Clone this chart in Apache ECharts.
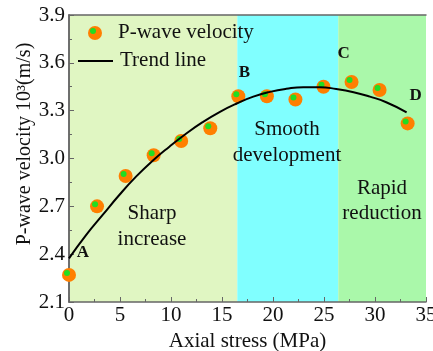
<!DOCTYPE html>
<html>
<head>
<meta charset="utf-8">
<script src="https://cdn.jsdelivr.net/npm/echarts@6/dist/echarts.min.js"></script>
<style>
html,body{margin:0;padding:0;background:#fff;}
#chart{width:433px;height:351px;}
</style>
</head>
<body>
<div id="chart"></div>
<script>
// P-wave velocity measurements (Axial stress MPa, velocity 10^3 m/s)
var stress = [0, 2.75, 5.55, 8.3, 11.0, 13.85, 16.6, 19.4, 22.2, 24.95, 27.7, 30.45, 33.2];
var velocity = [2.27, 2.70, 2.89, 3.02, 3.11, 3.19, 3.39, 3.39, 3.37, 3.45, 3.48, 3.43, 3.22];
var pointTags = ['A', '', '', '', '', '', 'B', '', '', '', 'C', '', 'D'];
// Trend line
var trendX = [0, 1.67, 3.3, 4.93, 6.57, 8.2, 9.84, 11.47, 13.1, 14.8, 16.44, 18.07, 19.7, 21.3, 22.97, 24.6, 26.2, 27.9, 29.5, 31.1, 33.1];
var trendY = [2.374, 2.52, 2.646, 2.771, 2.886, 2.986, 3.074, 3.155, 3.228, 3.293, 3.345, 3.388, 3.418, 3.437, 3.447, 3.447, 3.436, 3.416, 3.388, 3.353, 3.29];
// Stage bands
var stageStart = [0, 16.5, 26.4];
var stageEnd = [16.5, 26.4, 35];
var stageNames = ['Sharp\nincrease', 'Smooth\ndevelopment', 'Rapid\nreduction'];
var xTicks = [0, 5, 10, 15, 20, 25, 30, 35];
var yTicks = [2.1, 2.4, 2.7, 3.0, 3.3, 3.6, 3.9];

var FONT = '"Liberation Serif", "Times New Roman", serif';
var bandColors = ['#e0f6c2', '#80ffff', '#aaf8aa'];
var tagOffsets = {A: [14, -22], B: [6, -24], C: [-8, -28], D: [8, -28]};

var pts = stress.map(function (x, i) {
  var d = {value: [x, velocity[i]]};
  var t = pointTags[i];
  if (t) {
    d.label = {show: true, formatter: t, position: 'inside', offset: tagOffsets[t],
      fontFamily: FONT, fontWeight: 'bold', fontSize: 17, color: '#111'};
  }
  return d;
});
var greenPts = stress.map(function (x, i) { return [x, velocity[i]]; });
var trend = trendX.map(function (x, i) { return [x, trendY[i]]; });
var bands = stageStart.map(function (s, i) {
  return [{xAxis: s, itemStyle: {color: bandColors[i]}}, {xAxis: stageEnd[i]}];
});

var chart = echarts.init(document.getElementById('chart'), null, {renderer: 'canvas'});
var axisColor = '#666';
chart.setOption({
  animation: false,
  backgroundColor: '#fff',
  grid: {left: 69, right: 7, top: 15, bottom: 49, containLabel: false, outerBoundsMode: 'none'},
  xAxis: [{
    type: 'value', min: xTicks[0], max: xTicks[xTicks.length - 1], interval: 5, z: 2,
    axisLine: {lineStyle: {color: axisColor, width: 1.5}},
    axisTick: {show: true, inside: true, length: 5, lineStyle: {color: axisColor}},
    minorTick: {show: true, splitNumber: 2, length: 3, lineStyle: {color: axisColor}},
    splitLine: {show: false},
    axisLabel: {fontFamily: FONT, fontSize: 21, color: '#111', margin: 3},
    name: 'Axial stress (MPa)', nameLocation: 'middle', nameGap: 24,
    nameTextStyle: {fontFamily: FONT, fontSize: 21, color: '#111'}
  }, {
    type: 'value', position: 'top', min: 0, max: 35, z: 2,
    axisLine: {show: true, lineStyle: {color: axisColor, width: 1.5}},
    axisTick: {show: false}, axisLabel: {show: false}, splitLine: {show: false}
  }],
  yAxis: [{
    type: 'value', min: yTicks[0], max: yTicks[yTicks.length - 1], interval: 0.3, z: 2,
    axisLine: {show: true, lineStyle: {color: axisColor, width: 1.5}},
    axisTick: {show: true, inside: true, length: 5, lineStyle: {color: axisColor}},
    minorTick: {show: true, splitNumber: 2, length: 3, lineStyle: {color: axisColor}},
    splitLine: {show: false},
    axisLabel: {fontFamily: FONT, fontSize: 21, color: '#111', margin: 4,
      formatter: function (v) { return v.toFixed(1); }}
  }, {
    type: 'value', position: 'right', min: 2.1, max: 3.9, z: 2,
    axisLine: {show: true, lineStyle: {color: axisColor, width: 1.5}},
    axisTick: {show: false}, axisLabel: {show: false}, splitLine: {show: false}
  }],
  series: [{
    type: 'line', data: [], z: 1,
    markArea: {silent: true, data: bands, itemStyle: {opacity: 1}}
  }, {
    name: 'P-wave velocity', type: 'scatter', data: pts, symbolSize: 14, z: 3,
    itemStyle: {color: '#ff7f00', opacity: 1}
  }, {
    type: 'scatter', data: greenPts, symbolSize: 6, symbolOffset: [-2, -2], z: 4,
    itemStyle: {color: '#22dd22', opacity: 1}
  }, {
    name: 'Trend line', type: 'line', data: trend, smooth: true, showSymbol: false, z: 5,
    lineStyle: {color: '#000', width: 2}
  }],
  graphic: [
    {type: 'circle', shape: {cx: 95, cy: 33, r: 7}, style: {fill: '#ff7f00'}, z: 10},
    {type: 'circle', shape: {cx: 93, cy: 31, r: 3}, style: {fill: '#22dd22'}, z: 11},
    {type: 'text', x: 118, y: 32, style: {text: 'P-wave velocity', font: '21px ' + FONT, fill: '#111', verticalAlign: 'middle'}, z: 10},
    {type: 'line', shape: {x1: 78, y1: 61, x2: 113, y2: 61}, style: {stroke: '#000', lineWidth: 2}, z: 10},
    {type: 'text', x: 120, y: 60, style: {text: 'Trend line', font: '21px ' + FONT, fill: '#111', verticalAlign: 'middle'}, z: 10},
    {type: 'text', x: 152, y: 226, style: {text: stageNames[0], font: '21px ' + FONT, fill: '#111', align: 'center', verticalAlign: 'middle', lineHeight: 26}, z: 10},
    {type: 'text', x: 287, y: 142, style: {text: stageNames[1], font: '21px ' + FONT, fill: '#111', align: 'center', verticalAlign: 'middle', lineHeight: 26}, z: 10},
    {type: 'text', x: 382, y: 201, style: {text: stageNames[2], font: '21px ' + FONT, fill: '#111', align: 'center', verticalAlign: 'middle', lineHeight: 25}, z: 10},
    {type: 'text', x: 25, y: 144, rotation: Math.PI / 2, style: {text: 'P-wave velocity 10\u00B3(m/s)', font: '20px ' + FONT, fill: '#111', align: 'center', verticalAlign: 'middle'}, z: 10}
  ]
});
</script>
</body>
</html>
